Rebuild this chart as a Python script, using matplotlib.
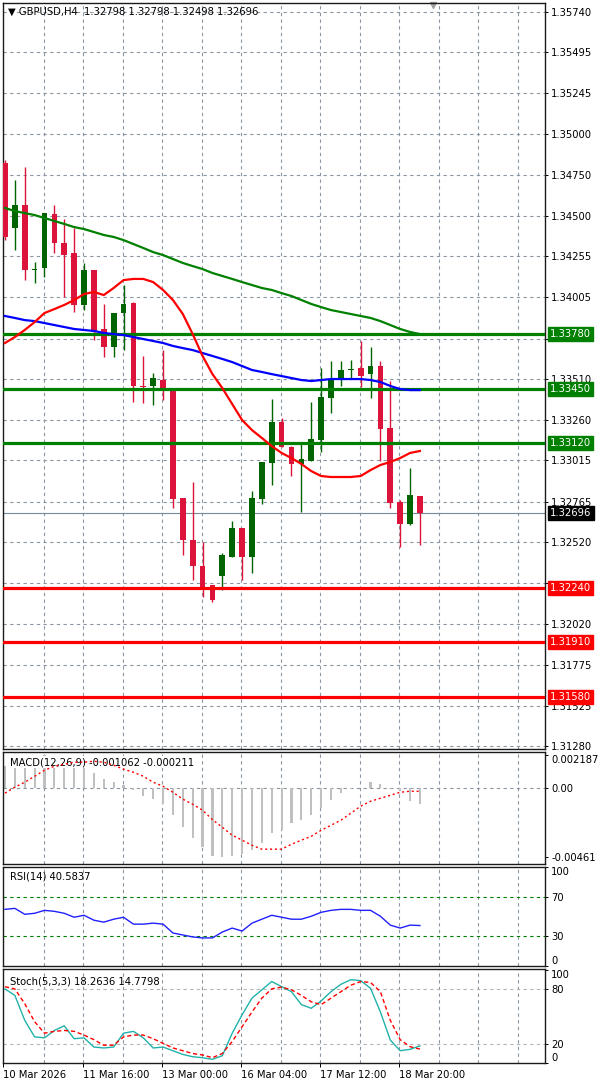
import numpy as np
import matplotlib.pyplot as plt
from matplotlib.transforms import blended_transform_factory

# GBPUSD H4, bar 0 = 10 Mar 08:00 (one bar every 4 hours)
opens = [1.34821, 1.34426, 1.34566, 1.34171, 1.34183, 1.34511, 1.34335, 1.34274, 1.33959, 1.34171,
         1.33813, 1.33703, 1.33910, 1.33971, 1.33467, 1.33467, 1.33503, 1.33454, 1.32786, 1.32531,
         1.32373, 1.32258, 1.32312, 1.32428, 1.32604, 1.32428, 1.32780, 1.32999, 1.33248, 1.33096,
         1.32993, 1.33011, 1.33139, 1.33394, 1.33509, 1.33564, 1.33576, 1.33539, 1.33588, 1.33211,
         1.32762, 1.32628, 1.32798]
highs = [1.34839, 1.34718, 1.34797, 1.34220, 1.34517, 1.34566, 1.34481, 1.34426, 1.34214, 1.34171,
         1.33965, 1.33910, 1.34080, 1.33977, 1.33649, 1.33546, 1.33685, 1.33454, 1.32786, 1.32883,
         1.32519, 1.32258, 1.32452, 1.32647, 1.32604, 1.32829, 1.33005, 1.33388, 1.33272, 1.33101,
         1.33120, 1.33369, 1.33576, 1.33618, 1.33618, 1.33624, 1.33740, 1.33703, 1.33618, 1.33497,
         1.32774, 1.32968, 1.32798]
lows = [1.34353, 1.34293, 1.34110, 1.34092, 1.34129, 1.34274, 1.34007, 1.33916, 1.33928, 1.33746,
        1.33643, 1.33643, 1.33685, 1.33369, 1.33363, 1.33351, 1.33381, 1.32726, 1.32440, 1.32288,
        1.32185, 1.32155, 1.32227, 1.32428, 1.32288, 1.32331, 1.32750, 1.32865, 1.33096, 1.32920,
        1.32701, 1.33011, 1.33066, 1.33303, 1.33467, 1.33515, 1.33460, 1.33394, 1.33011, 1.32726,
        1.32489, 1.32622, 1.32498]
closes = [1.34372, 1.34566, 1.34171, 1.34177, 1.34517, 1.34335, 1.34262, 1.33959, 1.34171, 1.33795,
          1.33703, 1.33910, 1.33965, 1.33467, 1.33462, 1.33515, 1.33454, 1.32780, 1.32531, 1.32373,
          1.32246, 1.32167, 1.32440, 1.32604, 1.32428, 1.32786, 1.33005, 1.33248, 1.33096, 1.32993,
          1.33023, 1.33145, 1.33400, 1.33509, 1.33564, 1.33570, 1.33527, 1.33588, 1.33205, 1.32756,
          1.32628, 1.32804, 1.32696]

ma_green = [1.34548, 1.34529, 1.34517, 1.34505, 1.34487, 1.34469, 1.34451, 1.34432, 1.34420, 1.34402,
            1.34384, 1.34372, 1.34353, 1.34329, 1.34305, 1.34280, 1.34262, 1.34238, 1.34214, 1.34195,
            1.34177, 1.34153, 1.34135, 1.34117, 1.34098, 1.34080, 1.34062, 1.34050, 1.34031, 1.34013,
            1.33989, 1.33965, 1.33946, 1.33928, 1.33916, 1.33904, 1.33892, 1.33880, 1.33861, 1.33837,
            1.33813, 1.33795, 1.33782]
ma_blue = [1.33892, 1.33880, 1.33867, 1.33861, 1.33849, 1.33837, 1.33825, 1.33813, 1.33807, 1.33801,
           1.33789, 1.33782, 1.33776, 1.33764, 1.33752, 1.33740, 1.33728, 1.33710, 1.33697, 1.33685,
           1.33667, 1.33649, 1.33631, 1.33612, 1.33588, 1.33564, 1.33552, 1.33539, 1.33527, 1.33515,
           1.33503, 1.33497, 1.33503, 1.33509, 1.33509, 1.33509, 1.33509, 1.33503, 1.33491, 1.33467,
           1.33448, 1.33442, 1.33442]
ma_red = [1.33728, 1.33764, 1.33807, 1.33855, 1.33910, 1.33934, 1.33959, 1.33989, 1.34025, 1.34038,
          1.34019, 1.34062, 1.34110, 1.34117, 1.34117, 1.34098, 1.34050, 1.33989, 1.33904, 1.33782,
          1.33649, 1.33539, 1.33454, 1.33357, 1.33260, 1.33199, 1.33151, 1.33102, 1.33060, 1.33029,
          1.32993, 1.32950, 1.32920, 1.32914, 1.32914, 1.32914, 1.32920, 1.32956, 1.32987, 1.33005,
          1.33029, 1.33060, 1.33072]

resist_levels = [1.33780, 1.33450, 1.33120]
support_levels = [1.32240, 1.31910, 1.31580]
last_price = 1.32696

price_ticks = [1.35740, 1.35495, 1.35245, 1.35000, 1.34750, 1.34500, 1.34255, 1.34005, 1.33755,
               1.33510, 1.33260, 1.33015, 1.32765, 1.32520, 1.32270, 1.32020, 1.31775, 1.31525, 1.31280]
hidden_ticks = [1.33755, 1.32270]   # labels sit under the level boxes

macd_main = [0.00147, 0.00174, 0.00194, 0.00207, 0.002187, 0.00207, 0.00194, 0.00174, 0.00140, 0.00100,
             0.00060, 0.00040, 0.00020, -0.00013, -0.00053, -0.00073, -0.00107, -0.00180, -0.00261, -0.00334,
             -0.00394, -0.00454, -0.00461, -0.00454, -0.00441, -0.00414, -0.00367, -0.00301, -0.00281, -0.00234,
             -0.00214, -0.00180, -0.00134, -0.00080, -0.00033, -0.00007, 0.00002, 0.00040, 0.00027, -0.00007,
             -0.00020, -0.00087, -0.001062]
macd_signal = [-0.00033, 0.00007, 0.00040, 0.00080, 0.00120, 0.00147, 0.00160, 0.00174, 0.00174, 0.00180,
               0.00174, 0.00154, 0.00127, 0.00107, 0.00080, 0.00040, 0.00013, -0.00027, -0.00073, -0.00107,
               -0.00147, -0.00210, -0.00261, -0.00314, -0.00347, -0.00381, -0.00407, -0.00407, -0.00407, -0.00374,
               -0.00347, -0.00321, -0.00281, -0.00247, -0.00214, -0.00167, -0.00120, -0.00087, -0.00067, -0.00047,
               -0.00027, -0.00020, -0.000211]

rsi = [57, 58, 52, 53, 56, 55, 53, 49, 51, 46, 44, 47, 49, 42, 42, 43, 42, 33, 31, 29, 28, 28,
       34, 38, 35, 43, 47, 51, 49, 47, 47, 50, 54, 56, 57, 57, 56, 56, 50, 41, 38, 41, 40.5837]

stoch_k = [80, 73, 46, 28, 27, 35, 40, 26, 27, 17, 16, 17, 32, 34, 27, 16, 17, 13, 9, 6.5, 5.4, 3.7,
           7.6, 32, 52, 70, 79, 88, 82.5, 77, 63, 59, 67, 77, 85, 90, 89, 80.7, 55, 24.6, 13, 14.5, 18.2636]
stoch_d = [82.4, 80, 64, 44.5, 32, 34, 35, 34, 30, 25, 19, 19, 28, 30, 30, 26, 21, 16, 13, 10, 8.4, 5.5,
           10, 23, 39, 55, 70, 80, 82, 79, 73, 66, 63, 70, 77, 84, 88, 87, 77, 46, 25, 17.4, 14.7798]

time_pos = [0, 8, 16, 24, 32, 40]
time_labels = ['10 Mar 2026', '11 Mar 16:00', '13 Mar 00:00', '16 Mar 04:00', '17 Mar 12:00', '18 Mar 20:00']

GRID = '#8c96a3'
FS = 7.2
x = np.arange(len(opens))
xlim = (-0.2, 54.66)

fig = plt.figure(figsize=(6, 10.85), dpi=100)
fig.patch.set_facecolor('white')

ax = fig.add_axes([0.005, 0.30968, 0.90333, 0.68756])
ax_macd = fig.add_axes([0.005, 0.20369, 0.90333, 0.10323])
ax_rsi = fig.add_axes([0.005, 0.10968, 0.90333, 0.09124])
ax_sto = fig.add_axes([0.005, 0.02028, 0.90333, 0.08664])


def setup(a):
    a.set_xlim(*xlim)
    a.yaxis.tick_right()
    a.tick_params(axis='y', length=2.5, pad=2, labelsize=FS, width=0.7)
    a.tick_params(axis='x', length=0, labelbottom=False)
    for s in a.spines.values():
        s.set_color('#1a1a1a')
        s.set_linewidth(1.0)
    for k in range(1, 14):
        a.axvline(4 * k - 0.1, color=GRID, lw=0.8, ls=(0, (3, 3)), zorder=0)


# ---- price panel
setup(ax)
ax.set_ylim(1.31262, 1.35793)
ax.set_yticks(price_ticks)
ax.set_yticklabels(['' if p in hidden_ticks else '%.5f' % p for p in price_ticks])
for p in price_ticks:
    ax.axhline(p, color=GRID, lw=0.8, ls=(0, (3, 3)), zorder=0)

o, h, l, c = map(np.array, (opens, highs, lows, closes))
cols = np.where(c >= o, '#006400', '#dc143c')
ax.vlines(x, l, h, colors=cols, lw=1.0, zorder=3)
ax.bar(x, np.maximum(np.abs(c - o), 0.00004), bottom=np.minimum(o, c), width=0.58,
       color=cols, lw=0, zorder=4)

ax.axhline(last_price, color='#778899', lw=0.8, zorder=1)
ax.plot(x, ma_green, color='#008000', lw=1.6, zorder=6)
ax.plot(x, ma_blue, color='#0000ff', lw=1.6, zorder=6)
ax.plot(x, ma_red, color='#ff0000', lw=1.6, zorder=6)
for lv in resist_levels:
    ax.axhline(lv, color='#008000', lw=2.3, zorder=5)
for lv in support_levels:
    ax.axhline(lv, color='#ff0000', lw=2.3, zorder=5)

tr = blended_transform_factory(ax.transAxes, ax.transData)
for lv in resist_levels:
    ax.text(1.0095, lv, '%.5f' % lv, transform=tr, color='white', fontsize=FS, va='center', ha='left',
            bbox=dict(boxstyle='square,pad=0.2', fc='#008000', ec='#008000'), clip_on=False, zorder=10)
for lv in support_levels:
    ax.text(1.0095, lv, '%.5f' % lv, transform=tr, color='white', fontsize=FS, va='center', ha='left',
            bbox=dict(boxstyle='square,pad=0.2', fc='#ff0000', ec='#ff0000'), clip_on=False, zorder=10)
ax.text(1.0095, last_price, '%.5f' % last_price, transform=tr, color='white', fontsize=FS,
        va='center', ha='left', bbox=dict(boxstyle='square,pad=0.2', fc='black', ec='black'),
        clip_on=False, zorder=10)

ax.text(0.009, 0.9885, '\u25bc GBPUSD,H4  1.32798 1.32798 1.32498 1.32696', transform=ax.transAxes,
        fontsize=FS, va='center', ha='left', color='black')
ax.plot([0.793], [0.997], marker='v', color='#a0a0a0', ms=5, transform=ax.transAxes, clip_on=False)

# ---- MACD
setup(ax_macd)
ax_macd.set_ylim(-0.00506, 0.00242)
ax_macd.axhline(0, color=GRID, lw=0.8, ls=(0, (3, 3)), zorder=0)
ax_macd.bar(x, macd_main, width=0.22, color='#c0c0c0', lw=0, zorder=2)
ax_macd.plot(x, macd_signal, color='#ff0000', lw=1.0, ls=(0, (1.5, 2)), zorder=5)
ax_macd.set_yticks([0.002187, 0.0, -0.00461])
ax_macd.set_yticklabels(['0.002187', '0.00', '-0.00461'])
ax_macd.get_yticklabels()[0].set_va('top')
ax_macd.text(0.013, 0.91, 'MACD(12,26,9) -0.001062 -0.000211', transform=ax_macd.transAxes,
             fontsize=FS, va='center', ha='left', zorder=4,
             bbox=dict(boxstyle='square,pad=0.1', fc='white', ec='none'))

# ---- RSI
setup(ax_rsi)
ax_rsi.set_ylim(-0.5, 100)
for lv in (70, 30):
    ax_rsi.axhline(lv, color='#008000', lw=0.8, ls=(0, (3, 3)), zorder=1)
ax_rsi.plot(x, rsi, color='#2020ff', lw=1.0, zorder=3)
ax_rsi.set_yticks([100, 70, 30, 0])
ax_rsi.set_yticklabels(['100', '70', '30', '0'])
ax_rsi.get_yticklabels()[0].set_va('top')
ax_rsi.get_yticklabels()[3].set_va('bottom')
ax_rsi.text(0.013, 0.90, 'RSI(14) 40.5837', transform=ax_rsi.transAxes, fontsize=FS,
            va='center', ha='left')

# ---- Stochastic
setup(ax_sto)
ax_sto.set_ylim(-0.3, 101.6)
for lv in (80, 20):
    ax_sto.axhline(lv, color='#b4b4b4', lw=0.8, ls=(0, (3, 3)), zorder=1)
ax_sto.plot(x, stoch_k, color='#20b2aa', lw=1.0, zorder=3)
ax_sto.plot(x, stoch_d, color='#ff0000', lw=1.0, ls=(0, (3, 2)), zorder=3)
ax_sto.set_yticks([100, 80, 20, 0])
ax_sto.set_yticklabels(['100', '80', '20', '0'])
ax_sto.get_yticklabels()[0].set_va('top')
ax_sto.get_yticklabels()[3].set_va('bottom')
ax_sto.text(0.013, 0.87, 'Stoch(5,3,3) 18.2636 14.7798', transform=ax_sto.transAxes, fontsize=FS,
            va='center', ha='left')

ax_sto.set_xticks(np.array(time_pos) - 0.15)
ax_sto.set_xticklabels(time_labels)
ax_sto.tick_params(axis='x', length=3, width=0.7, pad=2, labelsize=FS, labelbottom=True)
for t in ax_sto.get_xticklabels():
    t.set_ha('left')

fig.savefig('out.png', dpi=100)
